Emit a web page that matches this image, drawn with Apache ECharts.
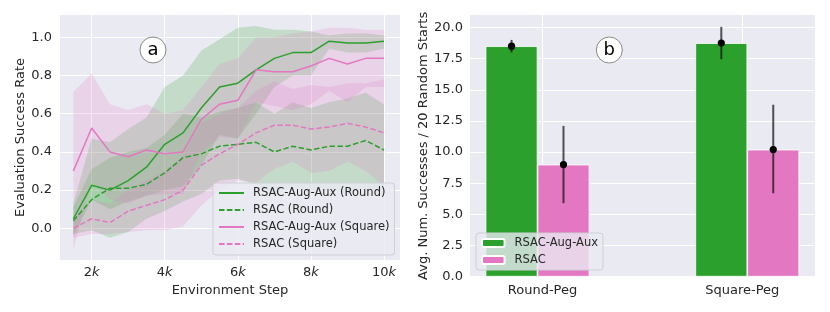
<!DOCTYPE html>
<html>
<head>
<meta charset="utf-8">
<script src="https://cdn.jsdelivr.net/npm/echarts@6/dist/echarts.min.js"></script>
<style>html,body{margin:0;padding:0;background:#fff;}#c{width:830px;height:312px;}</style>
</head>
<body>
<div id="c"></div>
<script>
// ---- Data: panel (a) ----
const steps = [1500,2000,2500,3000,3500,4000,4500,5000,5500,6000,6500,7000,7500,8000,8500,9000,9500,10000];
const roundAug   = [0.05,0.225,0.20,0.25,0.32,0.44,0.50,0.63,0.74,0.76,0.83,0.89,0.92,0.92,0.98,0.97,0.97,0.98];
const roundAugLo = [-0.04,0.15,0.10,0.14,0.17,0.20,0.22,0.33,0.49,0.47,0.60,0.74,0.80,0.80,0.94,0.92,0.92,0.94];
const roundAugHi = [0.13,0.47,0.45,0.52,0.58,0.74,0.80,0.93,0.99,1.05,1.06,1.04,1.04,1.03,1.01,1.02,1.02,1.01];
const roundRsac   = [0.04,0.15,0.21,0.21,0.23,0.29,0.37,0.39,0.43,0.44,0.45,0.40,0.43,0.41,0.43,0.43,0.46,0.41];
const roundRsacLo = [-0.03,-0.01,-0.05,-0.02,0.05,0.09,0.14,0.18,0.25,0.26,0.23,0.17,0.22,0.19,0.20,0.18,0.21,0.17];
const roundRsacHi = [0.11,0.31,0.37,0.40,0.42,0.49,0.60,0.58,0.61,0.63,0.66,0.60,0.66,0.63,0.66,0.68,0.71,0.65];
const sqAug   = [0.30,0.525,0.40,0.375,0.41,0.39,0.40,0.57,0.65,0.67,0.83,0.82,0.82,0.85,0.89,0.86,0.89,0.89];
const sqAugLo = [-0.11,0.24,0.15,0.13,0.17,0.18,0.18,0.40,0.48,0.47,0.66,0.64,0.62,0.65,0.72,0.66,0.74,0.74];
const sqAugHi = [0.715,0.81,0.65,0.62,0.65,0.60,0.62,0.74,0.86,0.89,1.0,1.0,1.02,1.03,1.05,1.05,1.04,1.04];
const sqRsac   = [0.00,0.05,0.03,0.09,0.12,0.15,0.20,0.33,0.39,0.44,0.50,0.54,0.54,0.52,0.53,0.55,0.53,0.50];
const sqRsacLo = [-0.05,-0.03,-0.03,-0.02,-0.01,-0.01,0.01,0.12,0.20,0.25,0.24,0.31,0.35,0.29,0.30,0.35,0.30,0.22];
const sqRsacHi = [0.05,0.15,0.13,0.20,0.25,0.30,0.38,0.55,0.60,0.63,0.72,0.77,0.73,0.75,0.74,0.76,0.76,0.78];
const lineNames = ['RSAC-Aug-Aux (Round)','RSAC (Round)','RSAC-Aug-Aux (Square)','RSAC (Square)'];
const xTicksA = [2000,4000,6000,8000,10000];
const yTicksA = [0,0.2,0.4,0.6,0.8,1.0];

// ---- Data: panel (b) ----
const categories = ['Round-Peg','Square-Peg'];
const barNames = ['RSAC-Aug-Aux','RSAC'];
const augMean = [18.5,18.75];
const augLo   = [18.0,17.45];
const augHi   = [19.0,20.05];
const rsacMean = [9.0,10.2];
const rsacLo   = [5.9,6.7];
const rsacHi   = [12.1,13.8];
const yTicksB = [0,2.5,5,7.5,10,12.5,15,17.5,20];

// ---- Styles ----
const FONT = 'DejaVu Sans';
const TXT = '#262626';
const GREEN = '#2ca02c', PINK = '#e377c2';
const GREEN_F = 'rgba(44,160,44,0.2)', PINK_F = 'rgba(227,119,194,0.2)';

function pairs(ys){ return steps.map((s,i)=>[s, ys[i]]); }
function band(lo, hi, fill){
  return {type:'custom', xAxisIndex:0, yAxisIndex:0, silent:true, z:1, clip:true,
    data: steps.map((s,i)=>[s, lo[i], hi[i]]),
    encode:{x:0, y:[1,2]},
    renderItem:(params, api)=>{
      if (params.dataIndexInside !== 0) return null;
      const n = params.dataInsideLength;
      const top = [], bot = [];
      for (let i=0;i<n;i++){
        const x = api.value(0,i);
        top.push(api.coord([x, api.value(2,i)]));
        bot.push(api.coord([x, api.value(1,i)]));
      }
      return {type:'polygon', shape:{points: top.concat(bot.reverse())}, style:{fill:fill}};
    }
  };
}
function line(name, ys, color, dashed){
  return {type:'line', name, xAxisIndex:0, yAxisIndex:0, data:pairs(ys), symbol:'none',
    lineStyle:{color, width:1.5, type: dashed ? [5.5,2.4] : 'solid'}, itemStyle:{color}, z:3};
}

const groupShift = [-0.025, 0.025];
const halfBar = 0.13;
const augX = categories.map((c,i)=> i + groupShift[i] - halfBar);
const rsacX = categories.map((c,i)=> i + groupShift[i] + halfBar);

function errSeries(xs, lo, hi, mean){
  return {type:'custom', xAxisIndex:1, yAxisIndex:1, z:5, silent:true,
    data: xs.map((x,i)=>[x, lo[i], hi[i], mean[i]]),
    encode:{x:0, y:[1,2,3]},
    renderItem:(params, api)=>{
      const x = api.value(0);
      const p1 = api.coord([x, api.value(1)]);
      const p2 = api.coord([x, api.value(2)]);
      const pm = api.coord([x, api.value(3)]);
      return {type:'group', children:[
        {type:'line', shape:{x1:p1[0], y1:p1[1], x2:p2[0], y2:p2[1]}, style:{stroke:'rgba(20,20,20,0.72)', lineWidth:2}},
        {type:'circle', shape:{cx:pm[0], cy:pm[1], r:3.6}, style:{fill:'#000'}}
      ]};
    }
  };
}

const chart = echarts.init(document.getElementById('c'), null, {renderer:'canvas'});
const axisTxt = {color:TXT, fontFamily:FONT, fontSize:13};
chart.setOption({
  animation:false,
  backgroundColor:'#ffffff',
  textStyle:{fontFamily:FONT},
  grid:[
    {left:60, top:15, width:340, height:245, show:true, backgroundColor:'#EAEAF2', borderWidth:0},
    {left:470, top:15, width:345, height:261.7, show:true, backgroundColor:'#EAEAF2', borderWidth:0}
  ],
  xAxis:[
    {type:'value', gridIndex:0, min:1134, max:10437,
     name:'Environment Step', nameLocation:'middle', nameGap:21, nameTextStyle:axisTxt,
     axisLine:{show:false}, axisTick:{show:false, customValues:xTicksA},
     axisLabel:{customValues:xTicksA, margin:6, ...axisTxt,
       formatter:(v)=>'{n|'+(v/1000)+'}{k|k}',
       rich:{n:{...axisTxt}, k:{...axisTxt, fontStyle:'italic'}}},
     splitLine:{show:true, lineStyle:{color:'#ffffff', width:1}}},
    {type:'value', gridIndex:1, min:-0.363, max:1.364,
     axisLine:{show:false}, axisTick:{show:false, customValues:[0,1]},
     axisLabel:{customValues:[0,1], margin:7, ...axisTxt, formatter:(v)=>categories[Math.round(v)]},
     splitLine:{show:true, lineStyle:{color:'#ffffff', width:1}}}
  ],
  yAxis:[
    {type:'value', gridIndex:0, min:-0.166, max:1.117,
     name:'Evaluation Success Rate', nameLocation:'middle', nameGap:33, nameTextStyle:axisTxt,
     axisLine:{show:false}, axisTick:{show:false, customValues:yTicksA},
     axisLabel:{customValues:yTicksA, margin:8, ...axisTxt, formatter:(v)=>v.toFixed(1)},
     splitLine:{show:true, lineStyle:{color:'#ffffff', width:1}}},
    {type:'value', gridIndex:1, min:0, max:21.0,
     name:'Avg. Num. Successes / 20 Random Starts', nameLocation:'middle', nameGap:40, nameTextStyle:axisTxt,
     axisLine:{show:false}, axisTick:{show:false, customValues:yTicksB},
     axisLabel:{customValues:yTicksB, margin:7, ...axisTxt, formatter:(v)=>v.toFixed(1)},
     splitLine:{show:true, lineStyle:{color:'#ffffff', width:1}}}
  ],
  legend:[
    {data:lineNames, orient:'vertical', left:213, top:183, itemWidth:25, itemHeight:10, itemGap:5,
     padding:[4,5,5,5], backgroundColor:'rgba(234,234,242,0.8)', borderColor:'#cfcfd6', borderWidth:1, borderRadius:3,
     itemStyle:{opacity:0},
     textStyle:{fontSize:11.5, color:TXT, fontFamily:FONT, padding:[0,0,0,4]}, selectedMode:false},
    {data:barNames, orient:'vertical', left:476, top:233, itemWidth:22.6, itemHeight:8, itemGap:5,
     padding:[4,5,4,5], backgroundColor:'rgba(234,234,242,0.8)', borderColor:'#cfcfd6', borderWidth:1, borderRadius:3,
     textStyle:{fontSize:11.5, color:TXT, fontFamily:FONT, padding:[0,0,0,5]}, selectedMode:false}
  ],
  series:[
    band(roundAugLo, roundAugHi, GREEN_F),
    band(roundRsacLo, roundRsacHi, GREEN_F),
    band(sqAugLo, sqAugHi, PINK_F),
    band(sqRsacLo, sqRsacHi, PINK_F),
    line(lineNames[0], roundAug, GREEN, false),
    line(lineNames[1], roundRsac, GREEN, true),
    line(lineNames[2], sqAug, PINK, false),
    line(lineNames[3], sqRsac, PINK, true),
    {type:'bar', name:barNames[0], xAxisIndex:1, yAxisIndex:1, barWidth:52, barGap:'-100%',
     data:augX.map((x,i)=>[x, augMean[i]]), itemStyle:{color:GREEN, borderColor:'#ffffff', borderWidth:0.8}, z:2},
    {type:'bar', name:barNames[1], xAxisIndex:1, yAxisIndex:1, barWidth:52, barGap:'-100%',
     data:rsacX.map((x,i)=>[x, rsacMean[i]]), itemStyle:{color:PINK, borderColor:'#ffffff', borderWidth:0.8}, z:2},
    errSeries(augX, augLo, augHi, augMean),
    errSeries(rsacX, rsacLo, rsacHi, rsacMean)
  ],
  graphic:[
    {type:'circle', shape:{cx:153, cy:50, r:13}, style:{fill:'#ffffff', stroke:'#8a8a8a', lineWidth:1}, z:10},
    {type:'text', x:153, y:50, style:{text:'a', font:'18px "DejaVu Sans"', align:'center', verticalAlign:'middle', fill:'#000'}, z:11},
    {type:'circle', shape:{cx:609.3, cy:50, r:13}, style:{fill:'#ffffff', stroke:'#8a8a8a', lineWidth:1}, z:10},
    {type:'text', x:609.3, y:50, style:{text:'b', font:'18px "DejaVu Sans"', align:'center', verticalAlign:'middle', fill:'#000'}, z:11}
  ]
});
</script>
</body>
</html>
